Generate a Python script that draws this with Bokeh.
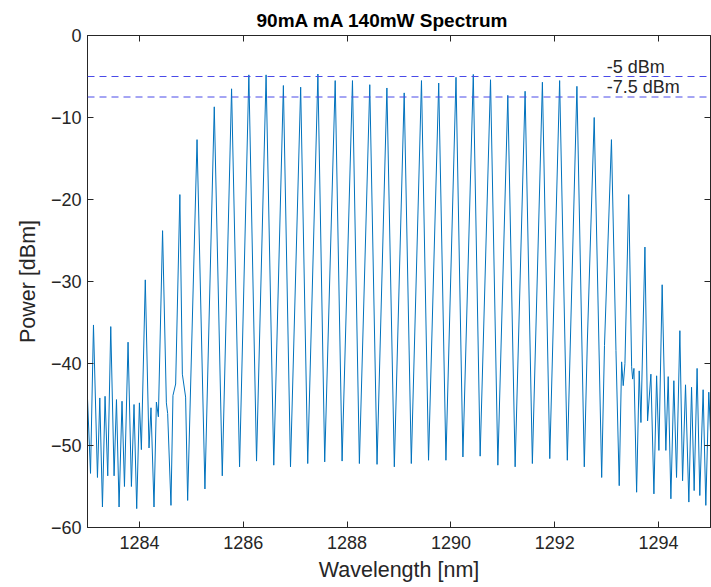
import numpy as np
from bokeh.plotting import figure
from bokeh.models import Span, Label, LinearAxis, FixedTicker, ColumnDataSource
from bokeh.embed import file_html
from bokeh.resources import INLINE

# --- data ---
# comb-line peaks
peak_nm = [1283.115, 1283.448, 1283.781, 1284.113, 1284.446, 1284.779, 1285.110, 1285.442,
           1285.775, 1286.108, 1286.440, 1286.773, 1287.106, 1287.438, 1287.771, 1288.104,
           1288.437, 1288.767, 1289.100, 1289.433, 1289.765, 1290.098, 1290.431, 1290.763,
           1291.096, 1291.429, 1291.762, 1292.094, 1292.427, 1292.760, 1293.092, 1293.425,
           1293.737, 1294.069, 1294.410, 1294.742]
peak_dbm = [-35.3, -35.5, -37.4, -29.8, -23.8, -19.4, -12.7, -8.7,
            -6.5, -4.8, -4.8, -6.1, -6.3, -4.7, -5.5, -5.5,
            -6.0, -6.4, -7.0, -5.5, -5.8, -5.1, -4.75, -5.4,
            -7.3, -6.8, -5.7, -5.5, -6.2, -10.0, -12.7, -19.4,
            -25.8, -30.4, -36.0, -40.6]

# troughs, side-modes and shoulders between the comb lines
floor_nm = [1283.000, 1283.058, 1283.192, 1283.237, 1283.288, 1283.338, 1283.390,
            1283.512, 1283.558, 1283.608, 1283.665, 1283.712,
            1283.846, 1283.896, 1283.948, 1284.000, 1284.038,
            1284.185, 1284.223, 1284.281, 1284.327, 1284.365,
            1284.519, 1284.544, 1284.608, 1284.646, 1284.698,
            1284.827, 1284.890, 1284.929,
            1285.262, 1285.596, 1285.929, 1286.256, 1286.588, 1286.910, 1287.242,
            1287.569, 1287.904, 1288.237, 1288.577, 1288.910, 1289.237, 1289.569,
            1289.904, 1290.231, 1290.563, 1290.904, 1291.237, 1291.569, 1291.904,
            1292.242, 1292.569, 1292.627,
            1292.904, 1292.958,
            1293.179, 1293.242, 1293.288, 1293.319, 1293.352,
            1293.481, 1293.500, 1293.525, 1293.577, 1293.627, 1293.660,
            1293.788, 1293.852, 1293.910, 1293.962, 1294.006,
            1294.140, 1294.185, 1294.237, 1294.294, 1294.346,
            1294.462, 1294.519, 1294.583, 1294.635, 1294.685,
            1294.794, 1294.858, 1294.910, 1294.967, 1295.025]
floor_dbm = [-44.3, -53.4, -53.9, -44.2, -57.5, -44.0, -53.7,
             -53.7, -44.4, -57.5, -44.6, -55.0,
             -55.0, -45.0, -57.7, -44.8, -50.5,
             -50.3, -45.4, -57.5, -44.7, -46.5,
             -44.8, -46.1, -57.3, -43.9, -42.5,
             -41.3, -44.1, -56.7,
             -55.3, -53.7, -52.6, -51.9, -52.4, -52.6, -52.2,
             -52.0, -51.9, -52.2, -52.3, -52.6, -52.2, -51.8,
             -51.8, -51.4, -51.3, -52.4, -52.6, -52.2, -51.6,
             -51.8, -52.6, -37.5,
             -53.9, -37.8,
             -38.4, -54.9, -39.8, -42.7, -40.0,
             -40.4, -41.9, -40.6, -55.7, -40.9, -47.2,
             -47.0, -41.3, -55.9, -41.5, -50.6,
             -50.6, -41.6, -56.5, -42.1, -53.9,
             -54.3, -42.6, -56.9, -42.9, -55.5,
             -56.1, -43.2, -57.3, -43.5, -52.0]

x_ticks = [1284, 1286, 1288, 1290, 1292, 1294]
y_ticks = [0, -10, -20, -30, -40, -50, -60]
ref_levels = [-5, -7.5]
ref_texts = ["-5 dBm", "-7.5 dBm"]

nm = np.array(peak_nm + floor_nm)
dbm = np.array(peak_dbm + floor_dbm)
order = np.argsort(nm)
src = ColumnDataSource(dict(wl=nm[order], p=dbm[order]))

FONT = "Liberation Sans"
TXT = "#262626"

p = figure(width=711, height=587, output_backend="svg", toolbar_location=None,
           x_range=(1283, 1295), y_range=(-60, 0),
           min_border_left=87, min_border_right=1, min_border_top=35, min_border_bottom=60,
           background_fill_color="white", border_fill_color="white")
p.grid.visible = False
p.outline_line_color = TXT
p.outline_line_width = 1

p.line("wl", "p", source=src, line_color="#0072BD", line_width=1)

for lvl, t in zip(ref_levels, ref_texts):
    p.add_layout(Span(location=lvl, dimension="width", line_color="#4a4ae8",
                      line_width=1, line_dash="7 5"))
    p.add_layout(Label(x=1293.0, y=lvl, text=t, text_font=FONT, text_font_size="18px",
                       text_color=TXT, text_baseline="bottom", y_offset=0))

def style(ax, ticks, labels=True):
    ax.ticker = FixedTicker(ticks=ticks)
    ax.major_tick_in = 6
    ax.major_tick_out = 0
    ax.minor_tick_line_color = None
    ax.axis_line_color = TXT
    ax.major_tick_line_color = TXT
    if labels:
        ax.major_label_text_font = FONT
        ax.major_label_text_font_size = "18px"
        ax.major_label_text_color = TXT
    else:
        ax.major_label_text_font_size = "0px"
        ax.major_label_text_color = None
        ax.major_label_standoff = 0

style(p.xaxis[0], x_ticks)
style(p.yaxis[0], y_ticks)
p.xaxis[0].major_label_standoff = 8
p.yaxis[0].major_label_standoff = 6
p.xaxis[0].axis_label = "Wavelength [nm]"
p.yaxis[0].axis_label = "Power [dBm]"
for ax in (p.xaxis[0], p.yaxis[0]):
    ax.axis_label_text_font = FONT
    ax.axis_label_text_font_style = "normal"
    ax.axis_label_text_color = TXT
    ax.axis_label_text_font_size = "21.5px"
p.xaxis[0].axis_label_standoff = 6
p.yaxis[0].axis_label_standoff = 8

top = LinearAxis()
style(top, x_ticks, labels=False)
p.add_layout(top, "above")
right = LinearAxis()
style(right, y_ticks, labels=False)
p.add_layout(right, "right")

p.title.text = "90mA mA 140mW Spectrum"
p.title.text_font = FONT
p.title.text_font_size = "19px"
p.title.text_font_style = "bold"
p.title.text_color = "black"
p.title.align = "left"
p.title.offset = 169
p.title.standoff = 10

# clipped orange secondary label at the far left
p.add_layout(Label(x=-80, y=252, x_units="screen", y_units="screen", text="Power (mW)",
                   text_font=FONT, text_font_size="21px", text_color="#D95319",
                   angle=np.pi / 2, text_align="center", text_baseline="middle",
                   level="overlay"))

open("out.html", "w").write(file_html(p, INLINE))
